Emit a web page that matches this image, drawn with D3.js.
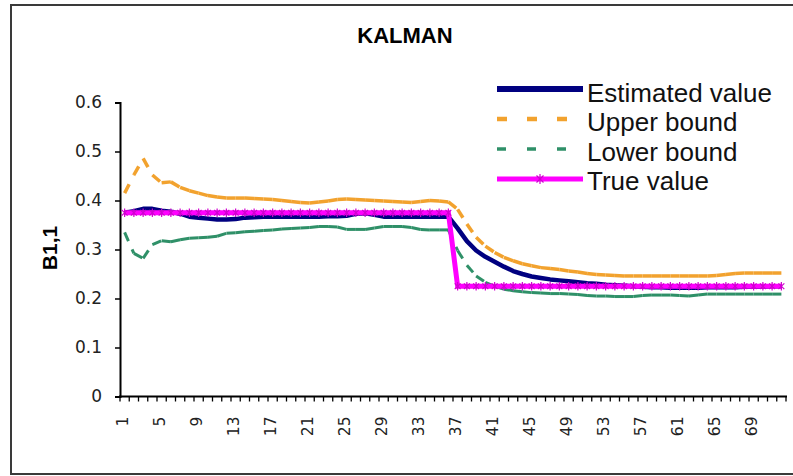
<!DOCTYPE html>
<html>
<head>
<meta charset="utf-8">
<script src="https://cdn.jsdelivr.net/npm/d3@7"></script>
<style>
  html, body { margin: 0; padding: 0; background: #fff; }
  svg { display: block; }
</style>
</head>
<body>
<svg id="chart" width="793" height="476"></svg>
<script>
// Kalman filter estimate of coefficient B1,1 with its confidence bounds
const categories = [1,2,3,4,5,6,7,8,9,10,11,12,13,14,15,16,17,18,19,20,21,22,23,24,
  25,26,27,28,29,30,31,32,33,34,35,36,37,38,39,40,41,42,43,44,45,46,47,48,
  49,50,51,52,53,54,55,56,57,58,59,60,61,62,63,64,65,66,67,68,69,70,71,72];

const estimated = [0.375,0.378,0.383,0.383,0.379,0.377,0.373,0.367,0.365,0.363,0.361,0.361,
  0.362,0.365,0.366,0.367,0.367,0.367,0.367,0.367,0.367,0.367,0.368,0.368,
  0.369,0.373,0.374,0.371,0.367,0.367,0.367,0.367,0.367,0.367,0.367,0.367,
  0.343,0.317,0.298,0.285,0.275,0.265,0.256,0.250,0.245,0.242,0.239,0.237,
  0.235,0.233,0.231,0.230,0.228,0.227,0.226,0.225,0.224,0.223,0.223,0.222,
  0.222,0.222,0.222,0.223,0.223,0.223,0.223,0.224,0.224,0.224,0.225,0.225];

const upperBound = [0.415,0.452,0.486,0.452,0.436,0.438,0.427,0.420,0.415,0.410,0.407,0.405,
  0.405,0.405,0.404,0.403,0.402,0.400,0.398,0.396,0.395,0.397,0.399,0.402,
  0.403,0.402,0.401,0.400,0.399,0.398,0.397,0.396,0.398,0.400,0.399,0.397,
  0.382,0.352,0.325,0.307,0.294,0.284,0.277,0.271,0.267,0.263,0.261,0.259,
  0.256,0.254,0.251,0.249,0.248,0.247,0.246,0.246,0.246,0.246,0.246,0.246,
  0.246,0.246,0.246,0.246,0.247,0.249,0.251,0.252,0.252,0.252,0.252,0.252];

const lowerBound = [0.335,0.292,0.282,0.310,0.318,0.316,0.320,0.323,0.324,0.325,0.327,0.333,
  0.334,0.336,0.337,0.339,0.340,0.342,0.343,0.344,0.345,0.347,0.347,0.346,
  0.341,0.341,0.341,0.344,0.347,0.347,0.347,0.345,0.341,0.340,0.340,0.340,
  0.298,0.268,0.246,0.233,0.225,0.219,0.216,0.214,0.212,0.211,0.210,0.210,
  0.209,0.208,0.206,0.205,0.205,0.204,0.204,0.204,0.206,0.207,0.207,0.207,
  0.206,0.205,0.207,0.209,0.209,0.209,0.209,0.209,0.209,0.209,0.209,0.209];

const trueValue = [0.375,0.375,0.375,0.375,0.375,0.375,0.375,0.375,0.375,0.375,0.375,0.375,
  0.375,0.375,0.375,0.375,0.375,0.375,0.375,0.375,0.375,0.375,0.375,0.375,
  0.375,0.375,0.375,0.375,0.375,0.375,0.375,0.375,0.375,0.375,0.375,0.375,
  0.225,0.225,0.225,0.225,0.225,0.225,0.225,0.225,0.225,0.225,0.225,0.225,
  0.225,0.225,0.225,0.225,0.225,0.225,0.225,0.225,0.225,0.225,0.225,0.225,
  0.225,0.225,0.225,0.225,0.225,0.225,0.225,0.225,0.225,0.225,0.225,0.225];

const xTickLabels = [1,5,9,13,17,21,25,29,33,37,41,45,49,53,57,61,65,69];
const yTickValues = [0, 0.1, 0.2, 0.3, 0.4, 0.5, 0.6];
const seriesNames = ["Estimated value", "Upper bound", "Lower bound", "True value"];

const svg = d3.select("#chart");

// outer chart frame
svg.append("rect")
  .attr("x", 11).attr("y", 5).attr("width", 820).attr("height", 469)
  .attr("fill", "#fff").attr("stroke", "#3a3a3a").attr("stroke-width", 2);

const x = d3.scaleBand().domain(categories).range([120, 786]).paddingInner(0).paddingOuter(0);
const cx = c => x(c) + x.bandwidth() / 2;
const y = d3.scaleLinear().domain([0, 0.6]).range([396.5, 102.5]);

// title
svg.append("text")
  .attr("x", 405).attr("y", 43)
  .attr("text-anchor", "middle")
  .attr("font-family", "'Liberation Sans', Arial, sans-serif")
  .attr("font-weight", "bold").attr("font-size", 22)
  .text("KALMAN");

// y-axis title
svg.append("text")
  .attr("transform", "translate(57,248) rotate(-90)")
  .attr("text-anchor", "middle")
  .attr("font-family", "'Liberation Sans', Arial, sans-serif")
  .attr("font-weight", "bold").attr("font-size", 21)
  .text("B1,1");

// y axis
const yAxis = d3.axisLeft(y).tickValues(yTickValues).tickSize(5).tickPadding(13)
  .tickFormat(d => d === 0 ? "0" : d3.format(".1f")(d));
const gy = svg.append("g").attr("transform", "translate(120,0)").call(yAxis);
gy.select(".domain").attr("stroke", "#000").attr("stroke-width", 2);
gy.selectAll(".tick line").attr("stroke", "#000").attr("stroke-width", 1.5);
gy.selectAll(".tick text")
  .attr("font-family", "'DejaVu Sans', sans-serif").attr("font-size", 17)
  .attr("fill", "#222");

// x axis: ticks between categories, labels every fourth category
const xAxisG = svg.append("g");
xAxisG.append("line")
  .attr("x1", 119).attr("x2", 787)
  .attr("y1", y(0)).attr("y2", y(0))
  .attr("stroke", "#000").attr("stroke-width", 2);
const boundaries = categories.map(c => x(c)).concat([x(categories[categories.length - 1]) + x.bandwidth()]);
xAxisG.selectAll("line.xt").data(boundaries).join("line")
  .attr("class", "xt")
  .attr("x1", d => d).attr("x2", d => d)
  .attr("y1", y(0)).attr("y2", y(0) + 5)
  .attr("stroke", "#000").attr("stroke-width", 1.3);
xAxisG.selectAll("text").data(xTickLabels).join("text")
  .attr("transform", d => `translate(${cx(d) - 2},${y(0) + 20}) rotate(-90)`)
  .attr("text-anchor", "end")
  .attr("dy", "0.36em")
  .attr("font-family", "'DejaVu Sans', sans-serif").attr("font-size", 15.5)
  .attr("fill", "#222")
  .text(d => d);

// series drawn segment by segment so each dash pattern restarts at every point
function drawSegments(values, color, width, dash) {
  const pts = values.map((v, i) => [cx(categories[i]), y(v)]);
  svg.append("g").selectAll("line").data(d3.pairs(pts)).join("line")
    .attr("x1", d => d[0][0]).attr("y1", d => d[0][1])
    .attr("x2", d => d[1][0]).attr("y2", d => d[1][1])
    .attr("stroke", color).attr("stroke-width", width)
    .attr("stroke-dasharray", dash || null)
    .attr("stroke-linecap", "butt");
}

const colors = ["#000080", "#F2A22E", "#2F9068", "#FF00FF"];

const lineGen = d3.line().x((d, i) => cx(categories[i])).y(d => y(d));
svg.append("path").datum(estimated).attr("d", lineGen)
  .attr("fill", "none").attr("stroke", colors[0]).attr("stroke-width", 4.5)
  .attr("stroke-linejoin", "round");
drawSegments(upperBound, colors[1], 3.5, "10,10");
drawSegments(lowerBound, colors[2], 3, "9.5,9");
svg.append("path").datum(trueValue).attr("d", lineGen)
  .attr("fill", "none").attr("stroke", colors[3]).attr("stroke-width", 5);

// star markers on the true value series
function star(g, px, py, r, color) {
  g.append("line").attr("x1", px).attr("x2", px).attr("y1", py - r).attr("y2", py + r)
    .attr("stroke", color).attr("stroke-width", 1.2);
  g.append("line").attr("x1", px - r * 0.7).attr("x2", px + r * 0.7).attr("y1", py - r * 0.7).attr("y2", py + r * 0.7)
    .attr("stroke", color).attr("stroke-width", 1.2);
  g.append("line").attr("x1", px - r * 0.7).attr("x2", px + r * 0.7).attr("y1", py + r * 0.7).attr("y2", py - r * 0.7)
    .attr("stroke", color).attr("stroke-width", 1.2);
}
const markers = svg.append("g");
trueValue.forEach((v, i) => star(markers, cx(categories[i]), y(v), 4.2, "#D000D0"));

// legend
const legend = svg.append("g");
const legendStyles = [
  { width: 6, dash: null },
  { width: 4.5, dash: "10,20" },
  { width: 3.5, dash: "9,21" },
  { width: 5, dash: null }
];
seriesNames.forEach((name, i) => {
  const ly = 89 + i * 30;
  legend.append("line")
    .attr("x1", 497).attr("x2", 583).attr("y1", ly).attr("y2", ly)
    .attr("stroke", colors[i]).attr("stroke-width", legendStyles[i].width)
    .attr("stroke-dasharray", legendStyles[i].dash);
  if (i === 3) star(legend, 540, ly, 5, "#D000D0");
  legend.append("text")
    .attr("x", 587).attr("y", 102 + i * 29.3)
    .attr("font-family", "'Liberation Sans', Arial, sans-serif")
    .attr("font-size", 26).attr("fill", "#111")
    .text(name);
});
</script>
</body>
</html>
